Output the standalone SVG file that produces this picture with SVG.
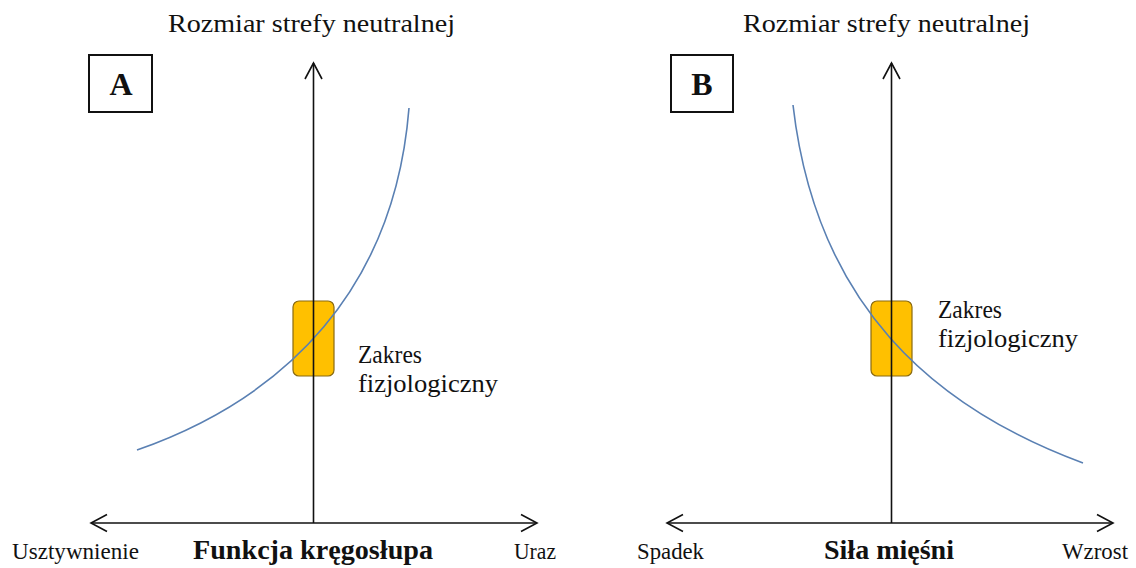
<svg xmlns="http://www.w3.org/2000/svg" width="1136" height="568" viewBox="0 0 1136 568">
<defs>
<style>
.ax{stroke:#111;stroke-width:1.6;fill:none}
.cv{stroke:#5a80b3;stroke-width:1.6;fill:none}
.zone{fill:#ffc000;stroke:#8a6a10;stroke-width:1.2}
.t{font-family:"Liberation Serif","Times New Roman",serif;fill:#111}
.b{font-weight:bold}
</style>
<marker id="ah" viewBox="-18 -10 20 20" markerWidth="20" markerHeight="20" markerUnits="userSpaceOnUse" refX="0" refY="0" orient="auto-start-reverse">
<path d="M-16,-8.5 L0,0 L-16,8.5" fill="none" stroke="#111" stroke-width="1.6"/>
</marker>
</defs>
<rect width="1136" height="568" fill="#fff"/>

<g id="panelA" font-family="Liberation Serif, serif">
<g id="labelA"><rect x="89" y="55" width="63" height="57" fill="#fff" stroke="#111" stroke-width="2"/><text class="t b" x="121" y="95" font-size="32" text-anchor="middle">A</text></g>
<text id="titleA" class="t" x="168" y="32" font-size="26" textLength="287" lengthAdjust="spacingAndGlyphs">Rozmiar strefy neutralnej</text>
<g id="rangeA"><rect class="zone" x="293" y="301" width="41" height="75" rx="6"/></g>
<g id="connectorsA">
<path class="cv" d="M137,450 C287,397.5 394.6,288 409,108"/>
<line class="ax" x1="313.5" y1="523" x2="313.5" y2="63" marker-end="url(#ah)"/>
<line class="ax" x1="91" y1="523" x2="537" y2="523" marker-start="url(#ah)" marker-end="url(#ah)"/>
</g>
<text class="t" x="358" y="363" font-size="25" textLength="64" lengthAdjust="spacingAndGlyphs">Zakres</text>
<text class="t" x="358" y="392" font-size="25" textLength="140" lengthAdjust="spacingAndGlyphs">fizjologiczny</text>
<text class="t" x="12" y="559" font-size="22.5" textLength="127" lengthAdjust="spacingAndGlyphs">Usztywnienie</text>
<text class="t b" x="193" y="559" font-size="28" textLength="240" lengthAdjust="spacingAndGlyphs">Funkcja kręgosłupa</text>
<text class="t" x="514" y="559" font-size="22.5" textLength="42" lengthAdjust="spacingAndGlyphs">Uraz</text>
</g>

<g id="panelB" font-family="Liberation Serif, serif">
<g id="labelB"><rect x="671" y="55" width="62" height="57" fill="#fff" stroke="#111" stroke-width="2"/><text class="t b" x="702" y="95" font-size="32" text-anchor="middle">B</text></g>
<text id="titleB" class="t" x="743" y="32" font-size="26" textLength="287" lengthAdjust="spacingAndGlyphs">Rozmiar strefy neutralnej</text>
<g id="rangeB"><rect class="zone" x="871" y="301" width="41" height="75" rx="6"/></g>
<g id="connectorsB">
<path class="cv" d="M793,105 C816,305 933,407.5 1083,463"/>
<line class="ax" x1="891.5" y1="523" x2="891.5" y2="63" marker-end="url(#ah)"/>
<line class="ax" x1="667" y1="523" x2="1113" y2="523" marker-start="url(#ah)" marker-end="url(#ah)"/>
</g>
<text class="t" x="938" y="318" font-size="25" textLength="64" lengthAdjust="spacingAndGlyphs">Zakres</text>
<text class="t" x="938" y="347" font-size="25" textLength="140" lengthAdjust="spacingAndGlyphs">fizjologiczny</text>
<text class="t" x="637" y="559" font-size="22.5" textLength="67" lengthAdjust="spacingAndGlyphs">Spadek</text>
<text class="t b" x="824" y="559" font-size="28" textLength="130" lengthAdjust="spacingAndGlyphs">Siła mięśni</text>
<text class="t" x="1062" y="559" font-size="22.5" textLength="66" lengthAdjust="spacingAndGlyphs">Wzrost</text>
</g>
</svg>
